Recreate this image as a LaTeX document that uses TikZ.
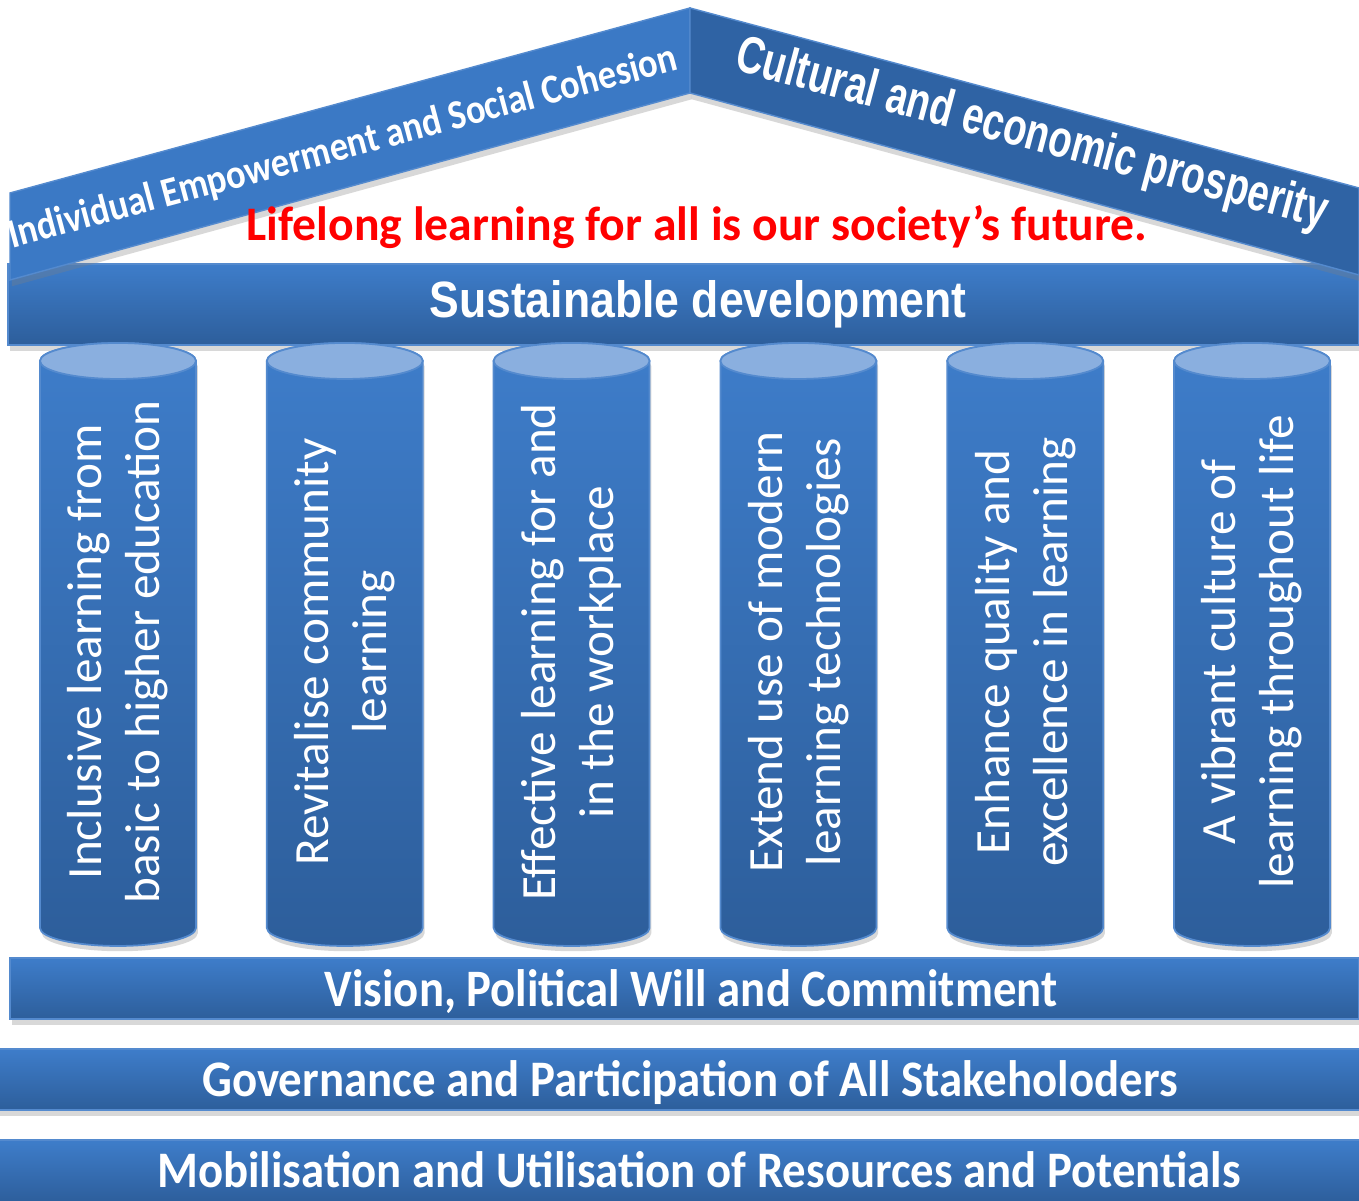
\documentclass[tikz,border=0pt]{standalone}
\usepackage{fontspec}
\setmainfont{Carlito}
\newfontfamily\roundfont{Liberation Sans}
\usetikzlibrary{shadows}

\definecolor{bandlight}{RGB}{62,125,202}
\definecolor{banddark}{RGB}{45,94,155}
\definecolor{roofleft}{RGB}{59,121,197}
\definecolor{roofright}{RGB}{47,99,164}
\definecolor{coltop}{RGB}{138,175,223}
\definecolor{coledge}{RGB}{84,138,206}

\begin{document}
\begin{tikzpicture}[x=0.01cm, y=0.01cm]
	\tikzset{band/.style={top color=bandlight, bottom color=banddark, draw=coledge, line width=0.4pt,
			drop shadow={shadow xshift=0.5pt, shadow yshift=-1.8pt, opacity=0.3}},
		roof/.style={draw=coledge, line width=0.4pt, drop shadow={shadow xshift=0.5pt, shadow yshift=-1.8pt, opacity=0.3}},
		pillar/.style={top color=bandlight, bottom color=banddark, draw=coledge, line width=0.5pt,
			drop shadow={shadow xshift=0.5pt, shadow yshift=-1.5pt, opacity=0.3}},
		pillartop/.style={fill=coltop, draw=coledge, line width=0.5pt},
		bandtext/.style={white, inner sep=0pt, anchor=base},
		coltext/.style={white, align=center, rotate=90, font=\fontsize{14}{16.5}\selectfont}};

	\useasboundingbox[fill=white] (0,0) rectangle (1359,1201);

	% toit
	\draw[band] (8,856) rectangle (1359,937);
	\draw[roof, fill=roofleft]  (10,1008) -- (690,1193) -- (690,1108) -- (10,921) -- cycle;
	\draw[roof, fill=roofright] (690,1193) -- (1359,1013) -- (1359,926) -- (690,1108) -- cycle;

	\node[bandtext, rotate=15] (empower) at (346,1042)
		{\resizebox{6.9cm}{0.29cm}{\bfseries Individual Empowerment and Social Cohesion}};
	\node[bandtext, rotate=-15] (prosper) at (1028,1052)
		{\resizebox{6.1cm}{0.38cm}{\roundfont\bfseries Cultural and economic prosperity}};
	\node[bandtext, red] (motto) at (697,960)
		{\resizebox{9.0cm}{0.35cm}{\bfseries Lifelong learning for all is our society’s future.}};
	\node[bandtext] (sust) at (698,883)
		{\resizebox{5.37cm}{0.37cm}{\roundfont\bfseries Sustainable development}};

	% piliers
	\foreach \i/\txt in {0/{Inclusive learning from\\basic to higher education},
			1/{Revitalise community\\learning},
			2/{Effective learning for and\\in the workplace},
			3/{Extend use of modern\\learning technologies},
			4/{Enhance quality and\\excellence in learning},
			5/{A vibrant culture of\\learning throughout life}} {
		\pgfmathsetmacro{\cx}{118+226.8*\i}
		\draw[pillar] (\cx-78,840) -- (\cx-78,273) arc[start angle=180, end angle=360, x radius=78, y radius=18]
			-- (\cx+78,840) arc[start angle=0, end angle=180, x radius=78, y radius=18] -- cycle;
		\draw[pillartop] (\cx,840) ellipse[x radius=78, y radius=18];
		\node[coltext] (col\i) at (\cx,549) {\txt};
	}

	% fondations
	\draw[band] (10,182) rectangle (1359,243);
	\draw[band] (-2,91) rectangle (1361,152);
	\draw[band] (-2,-2) rectangle (1361,61);

	\node[bandtext] (vision) at (691,194)
		{\resizebox{7.32cm}{0.37cm}{\bfseries Vision, Political Will and Commitment}};
	\node[bandtext] (gov) at (690,104)
		{\resizebox{9.75cm}{0.36cm}{\bfseries Governance and Participation of All Stakeholoders}};
	\node[bandtext] (mob) at (699,13)
		{\resizebox{10.83cm}{0.36cm}{\bfseries Mobilisation and Utilisation of Resources and Potentials}};
\end{tikzpicture}
\end{document}
